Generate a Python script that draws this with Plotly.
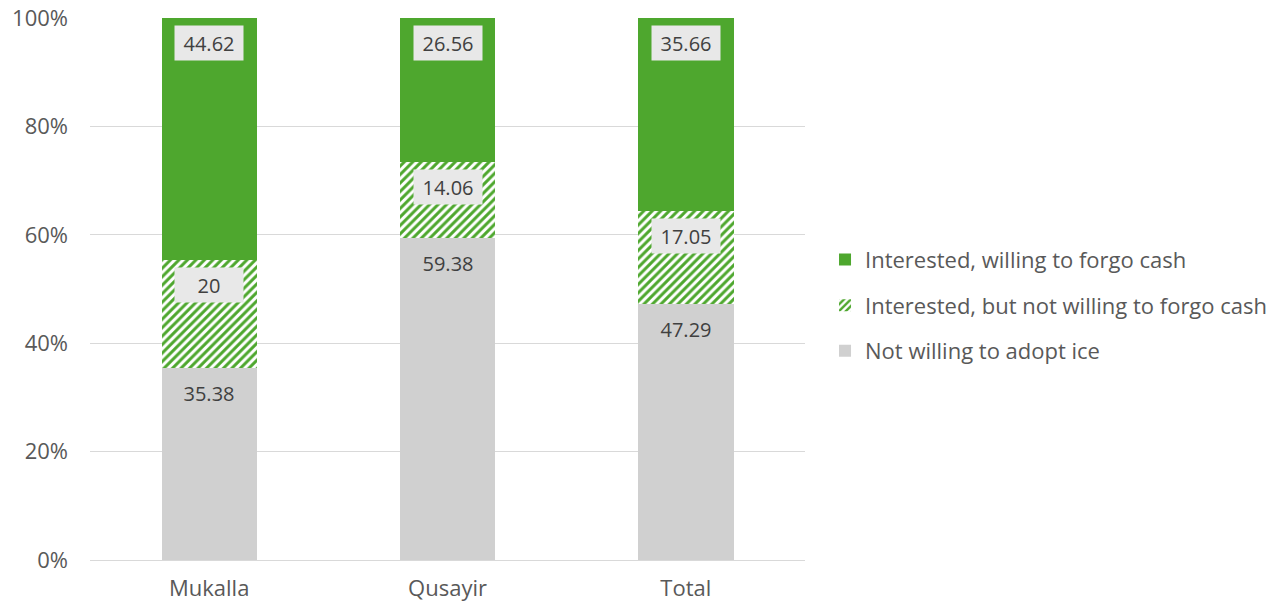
import plotly.graph_objects as go

categories = ["Mukalla", "Qusayir", "Total"]
not_willing = [35.38, 59.38, 47.29]
interested_not_forgo = [20, 14.06, 17.05]
interested_forgo = [44.62, 26.56, 35.66]
y_ticks = [0, 20, 40, 60, 80, 100]
y_tick_labels = ["0%", "20%", "40%", "60%", "80%", "100%"]

GREEN = "#4ea72e"
GRAY = "#d0d0d0"
TEXT = "#595959"
FONT = "Open Sans"

fig = go.Figure()
fig.add_trace(go.Bar(
    x=categories, y=not_willing, name="Not willing to adopt ice",
    marker=dict(color=GRAY, line=dict(width=0)), legendgroup="c", legendrank=3, width=0.4,
))
fig.add_trace(go.Bar(
    x=categories, y=interested_not_forgo, name="Interested, but not willing to forgo cash",
    marker=dict(color="white", line=dict(width=0),
                pattern=dict(shape="/", fgcolor=GREEN, bgcolor="white", size=6, solidity=0.5,
                             fgopacity=1, fillmode="replace")),
    legendgroup="b", legendrank=2, width=0.4,
))
fig.add_trace(go.Bar(
    x=categories, y=interested_forgo, name="Interested, willing to forgo cash",
    marker=dict(color=GREEN, line=dict(width=0)), legendgroup="a", legendrank=1, width=0.4,
))

# Data labels near the top of each segment ("inside end")
for i, cat in enumerate(categories):
    cum = 0
    for k, series in enumerate((not_willing, interested_not_forgo, interested_forgo)):
        v = series[i]
        cum += v
        fig.add_annotation(
            x=cat, y=cum, xref="x", yref="y", yanchor="top", yshift=-7,
            text=f"{v:g}", showarrow=False, width=60, height=26,
            font=dict(family=FONT, size=20, color="#404040"),
            bgcolor="rgba(0,0,0,0)" if k == 0 else "#e8e8e8", borderpad=4,
        )

fig.update_layout(
    barmode="stack",
    width=1276, height=603,
    margin=dict(l=90, r=471, t=18, b=43, autoexpand=False),
    paper_bgcolor="white", plot_bgcolor="white",
    font=dict(family=FONT, size=21, color=TEXT),
    showlegend=True,
    legend=dict(
        traceorder="grouped", x=1.028, xanchor="left", y=0.47, yanchor="middle",
        font=dict(family=FONT, size=22, color=TEXT), tracegroupgap=14,
        itemwidth=30,
    ),
)
fig.update_yaxes(
    range=[0, 100], tickvals=y_ticks, ticktext=y_tick_labels, automargin=False,
    showgrid=True, gridcolor="#d9d9d9", gridwidth=1.3, zeroline=False,
    showline=False, ticks="", ticklabelstandoff=21,
    tickfont=dict(family=FONT, size=22, color=TEXT),
)
fig.update_xaxes(
    showline=True, linecolor="#d9d9d9", linewidth=1.3, ticks="", automargin=False,
    ticklabelstandoff=8,
    tickfont=dict(family=FONT, size=22, color=TEXT),
)

fig.write_html("out.html")
